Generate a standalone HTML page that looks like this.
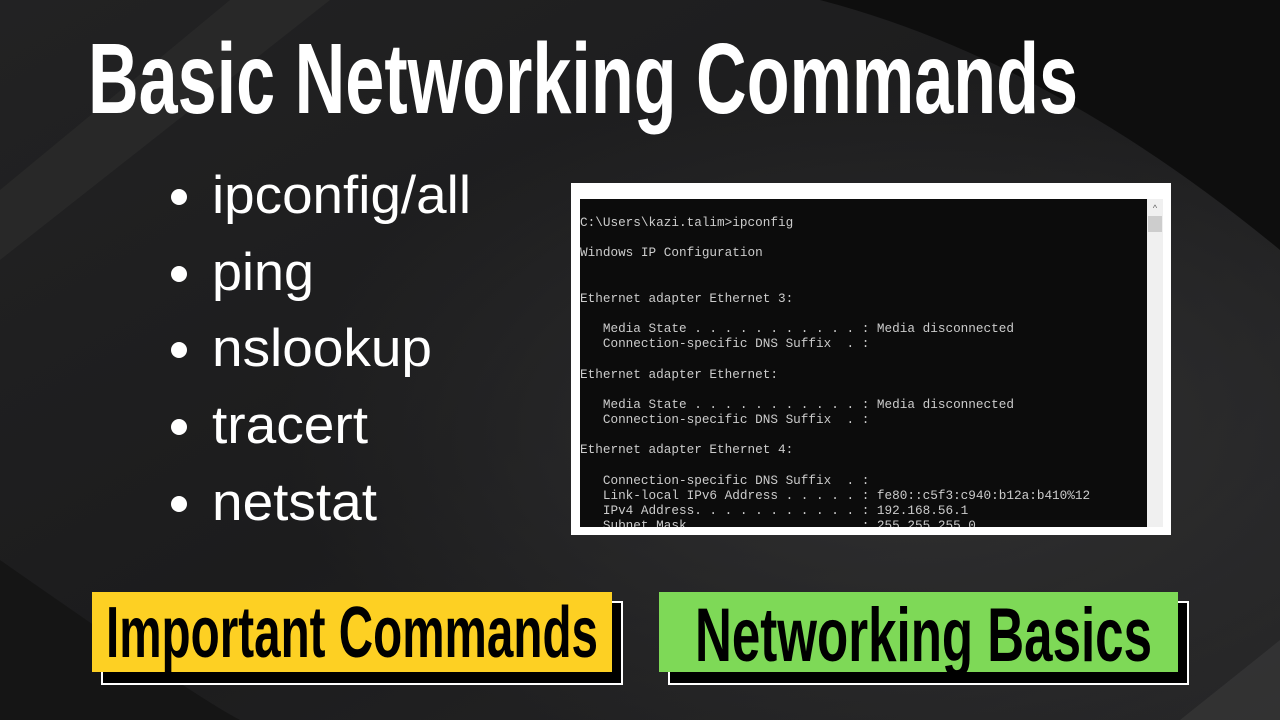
<!DOCTYPE html>
<html><head><meta charset="utf-8"><style>
html,body{margin:0;padding:0;background:#1e1e1f;}
svg{display:block}
.t{white-space:pre}
</style></head><body>
<svg width="1280" height="720" viewBox="0 0 1280 720" xmlns="http://www.w3.org/2000/svg">
<defs>
<linearGradient id="bg" x1="0" y1="0" x2="1" y2="1">
<stop offset="0" stop-color="#222223"/><stop offset="0.5" stop-color="#1c1c1d"/><stop offset="1" stop-color="#262627"/>
</linearGradient>
<radialGradient id="glow" cx="0.72" cy="0.6" r="0.5">
<stop offset="0" stop-color="#303031"/><stop offset="1" stop-color="#303031" stop-opacity="0"/>
</radialGradient>
</defs>
<rect width="1280" height="720" fill="url(#bg)"/>
<rect width="1280" height="720" fill="url(#glow)"/>
<path d="M0 190 L230 0 L330 0 L0 260 Z" fill="#2a2a2b" opacity="0.8"/>
<path d="M820 0 L1280 0 L1280 250 Q1050 60 820 0 Z" fill="#0e0e0e"/>
<path d="M0 560 Q200 700 240 720 L0 720 Z" fill="#151515"/>
<path d="M1180 720 L1280 640 L1280 720 Z" fill="#3a3a3a" opacity="0.6"/>

<text x="88" y="113" font-family="Liberation Sans, sans-serif" font-weight="bold" font-size="100" fill="#fff" textLength="990" lengthAdjust="spacingAndGlyphs">Basic Networking Commands</text>

<g fill="#fff" font-family="Liberation Sans, sans-serif" font-size="53">
<circle cx="179" cy="197" r="8"/><text x="212" y="213" textLength="259" lengthAdjust="spacingAndGlyphs">ipconfig/all</text>
<circle cx="179" cy="274" r="8"/><text x="212" y="290" textLength="102" lengthAdjust="spacingAndGlyphs">ping</text>
<circle cx="179" cy="350" r="8"/><text x="212" y="366" textLength="220" lengthAdjust="spacingAndGlyphs">nslookup</text>
<circle cx="179" cy="427" r="8"/><text x="212" y="443" textLength="156" lengthAdjust="spacingAndGlyphs">tracert</text>
<circle cx="179" cy="504" r="8"/><text x="212" y="520" textLength="165" lengthAdjust="spacingAndGlyphs">netstat</text>
</g>

<rect x="571" y="183" width="600" height="352" fill="#fff"/>
<rect x="580" y="199" width="567" height="328" fill="#0c0c0c"/>
<rect x="1147" y="199" width="16" height="328" fill="#f0f0f0"/>
<rect x="1148" y="216" width="14" height="16" fill="#cdcdcd"/>
<text x="1155" y="211" font-size="9" fill="#666" text-anchor="middle" font-family="Liberation Sans, sans-serif">^</text>
<g font-family="Liberation Mono, DejaVu Sans Mono, monospace" font-size="12.7" fill="#cccccc">
<text class="t" x="580" y="226">C:\Users\kazi.talim&gt;ipconfig</text>
<text class="t" x="580" y="256">Windows IP Configuration</text>
<text class="t" x="580" y="302">Ethernet adapter Ethernet 3:</text>
<text class="t" x="580" y="332">   Media State . . . . . . . . . . . : Media disconnected</text>
<text class="t" x="580" y="347">   Connection-specific DNS Suffix  . :</text>
<text class="t" x="580" y="378">Ethernet adapter Ethernet:</text>
<text class="t" x="580" y="408">   Media State . . . . . . . . . . . : Media disconnected</text>
<text class="t" x="580" y="423">   Connection-specific DNS Suffix  . :</text>
<text class="t" x="580" y="453">Ethernet adapter Ethernet 4:</text>
<text class="t" x="580" y="484">   Connection-specific DNS Suffix  . :</text>
<text class="t" x="580" y="499">   Link-local IPv6 Address . . . . . : fe80::c5f3:c940:b12a:b410%12</text>
<text class="t" x="580" y="514">   IPv4 Address. . . . . . . . . . . : 192.168.56.1</text>
<text class="t" x="580" y="529">   Subnet Mask . . . . . . . . . . . : 255.255.255.0</text>
</g>
<rect x="571" y="527" width="600" height="8" fill="#fff"/>

<rect x="102" y="602" width="520" height="82" fill="#000" stroke="#fff" stroke-width="2"/>
<rect x="92" y="592" width="520" height="80" fill="#fdd023"/>
<text x="106" y="657" font-family="Liberation Sans, sans-serif" font-weight="bold" font-size="72" fill="#000" textLength="492" lengthAdjust="spacingAndGlyphs">Important Commands</text>

<rect x="669" y="602" width="519" height="82" fill="#000" stroke="#fff" stroke-width="2"/>
<rect x="659" y="592" width="519" height="80" fill="#7ed957"/>
<text x="695" y="661" font-family="Liberation Sans, sans-serif" font-weight="bold" font-size="76" fill="#000" textLength="457" lengthAdjust="spacingAndGlyphs">Networking Basics</text>
</svg>
</body></html>
